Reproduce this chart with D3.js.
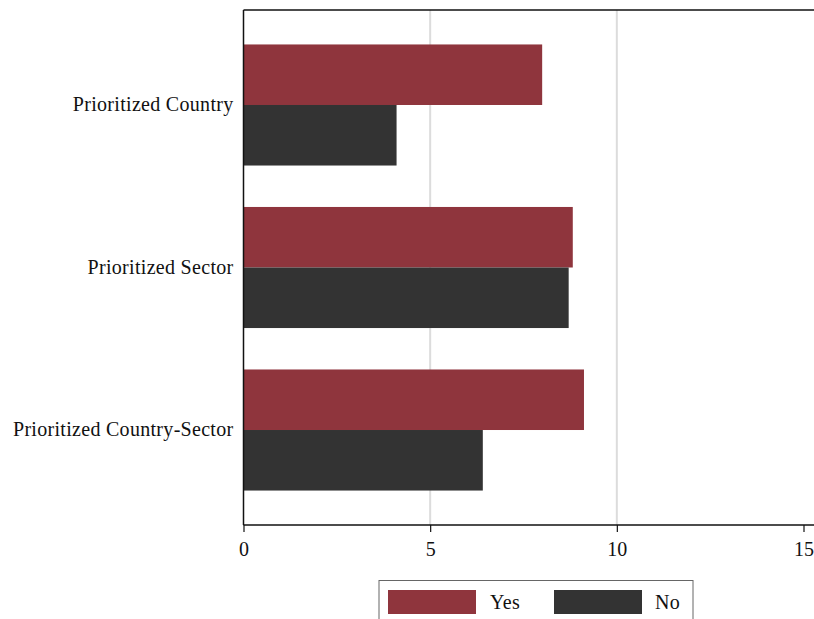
<!DOCTYPE html>
<html>
<head>
<meta charset="utf-8">
<script src="https://cdn.jsdelivr.net/npm/d3@7"></script>
<style>
  html, body { margin: 0; padding: 0; background: #fff; }
  svg { display: block; }
  text { font-family: "Liberation Serif", "DejaVu Serif", serif; fill: #111; }
</style>
</head>
<body>
<svg id="chart" width="814" height="619"></svg>
<script>
// Data
const categories = ["Prioritized Country", "Prioritized Sector", "Prioritized Country-Sector"];
const seriesNames = ["Yes", "No"];
const yesValues = [8.0, 8.82, 9.12];
const noValues = [4.1, 8.71, 6.41];
const xTicks = [0, 5, 10, 15];

const colors = { Yes: "#8f353d", No: "#333333" };
const FONT = "Liberation Serif, serif";
const FS = 20;
const LS = 0.3;

const W = 814, H = 619;
const margin = { left: 243.5, right: 0, top: 10, bottom: 94 };
const plotBottom = H - margin.bottom; // 525

const svg = d3.select("#chart");

const x = d3.scaleLinear().domain([0, 15]).range([margin.left, 803.5]);

const y = d3.scaleBand()
  .domain(categories)
  .range([margin.top, plotBottom])
  .paddingInner(0.255)
  .paddingOuter(0.212);

const ySub = d3.scaleBand()
  .domain(seriesNames)
  .range([0, y.bandwidth()]);

// Gridlines
svg.append("g")
  .selectAll("line")
  .data(xTicks.filter(t => t > 0 && t < 15))
  .join("line")
  .attr("x1", d => x(d)).attr("x2", d => x(d))
  .attr("y1", margin.top).attr("y2", plotBottom)
  .attr("stroke", "#dcdcdc")
  .attr("stroke-width", 2);

// Bars
const rows = categories.map((c, i) => ({ cat: c, Yes: yesValues[i], No: noValues[i] }));
const groups = svg.append("g")
  .selectAll("g")
  .data(rows)
  .join("g")
  .attr("transform", d => `translate(0,${y(d.cat)})`);

groups.selectAll("rect")
  .data(d => seriesNames.map(s => ({ s, v: d[s] })))
  .join("rect")
  .attr("x", x(0))
  .attr("y", d => ySub(d.s))
  .attr("width", d => x(d.v) - x(0))
  .attr("height", ySub.bandwidth())
  .attr("fill", d => colors[d.s]);

// Top frame line
svg.append("line")
  .attr("x1", margin.left).attr("x2", W)
  .attr("y1", margin.top).attr("y2", margin.top)
  .attr("stroke", "#111").attr("stroke-width", 1.5);

// Left axis (category labels, no ticks)
const yAxis = svg.append("g")
  .attr("transform", `translate(${margin.left},0)`)
  .call(d3.axisLeft(y).tickSize(0).tickPadding(10));
yAxis.select(".domain").attr("stroke", "#111").attr("stroke-width", 1.5)
  .attr("d", `M0,${margin.top}V${plotBottom}`);
yAxis.selectAll("text").attr("font-size", FS).attr("fill", "#111")
  .attr("font-family", FONT).attr("letter-spacing", LS);

// Bottom axis
const xAxis = svg.append("g")
  .attr("transform", `translate(0,${plotBottom})`)
  .call(d3.axisBottom(x).tickValues(xTicks).tickSize(7).tickPadding(10).tickFormat(d3.format("d")));
xAxis.select(".domain").attr("stroke", "#111").attr("stroke-width", 1.5)
  .attr("d", `M${margin.left},0H${W}`);
xAxis.selectAll(".tick line").attr("stroke", "#111").attr("stroke-width", 1.2);
xAxis.selectAll("text").attr("font-size", FS).attr("fill", "#111")
  .attr("font-family", FONT);

// Legend
const legend = svg.append("g");
legend.append("rect")
  .attr("x", 379).attr("y", 580.5)
  .attr("width", 314).attr("height", 50)
  .attr("fill", "#fff").attr("stroke", "#666").attr("stroke-width", 1);

const legendItems = [
  { s: "Yes", sx: 388, tx: 490 },
  { s: "No", sx: 554, tx: 655 }
];
legendItems.forEach(it => {
  legend.append("rect")
    .attr("x", it.sx).attr("y", 590)
    .attr("width", 88).attr("height", 24)
    .attr("fill", colors[it.s]);
  legend.append("text")
    .attr("x", it.tx).attr("y", 609)
    .attr("font-size", FS)
    .attr("letter-spacing", LS)
    .text(it.s);
});
</script>
</body>
</html>
